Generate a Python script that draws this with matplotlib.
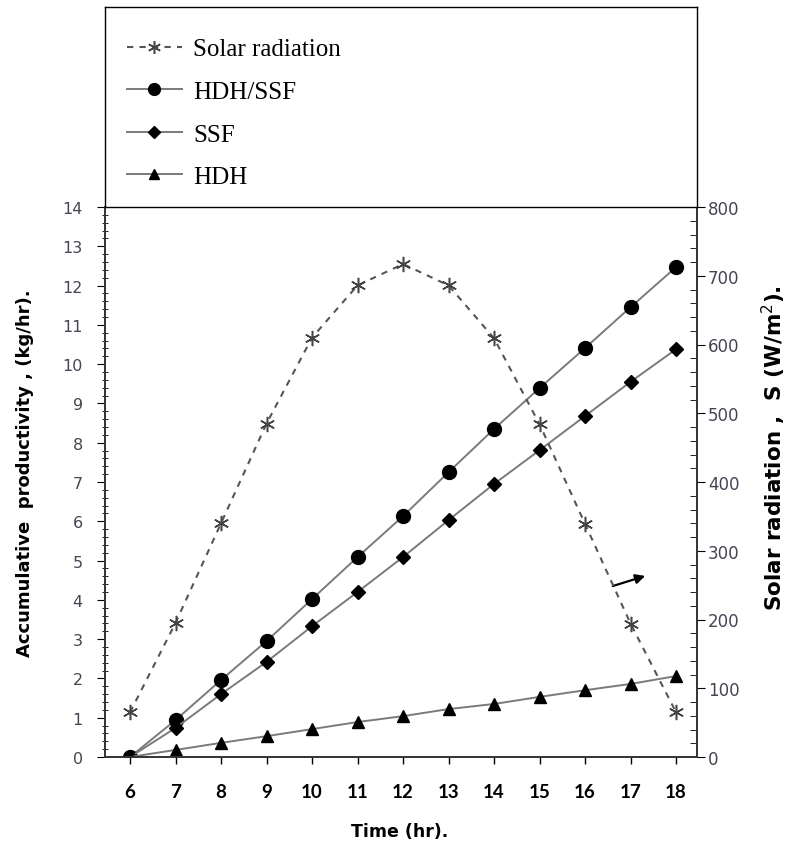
import numpy as np
import matplotlib.pyplot as plt
from matplotlib.ticker import MultipleLocator

# --- Dades (llegides de la figura) ---
hours = [6, 7, 8, 9, 10, 11, 12, 13, 14, 15, 16, 17, 18]
solar = [65, 195, 340, 485, 610, 686, 717, 686, 609, 484, 339, 194, 65]
hdh_ssf = [0, 0.94, 1.96, 2.95, 4.02, 5.09, 6.13, 7.25, 8.35, 9.39, 10.41, 11.45, 12.47]
ssf = [0, 0.74, 1.6, 2.42, 3.33, 4.2, 5.09, 6.03, 6.95, 7.81, 8.68, 9.55, 10.38]
hdh = [0, 0.18, 0.36, 0.53, 0.71, 0.89, 1.04, 1.22, 1.35, 1.53, 1.7, 1.86, 2.06]

tick_col = '#4a4252'
line_col = '#7a7a7a'

fig = plt.figure(figsize=(7.92, 8.45), dpi=100)
ax = fig.add_axes([105/792, 87/845, 592/792, 550/845])
ax2 = ax.twinx()
leg_ax = fig.add_axes([105/792, 637/845, 592/792, 200/845])
leg_ax.set_xticks([])
leg_ax.set_yticks([])
for s in leg_ax.spines.values():
    s.set_color('black')
    s.set_linewidth(1.0)

# --- Sèries ---
l1, = ax.plot(hours, hdh_ssf, color=line_col, lw=1.4, marker='o', ms=10,
              mfc='black', mec='black')
l2, = ax.plot(hours, ssf, color=line_col, lw=1.4, marker='D', ms=7,
              mfc='black', mec='black')
l3, = ax.plot(hours, hdh, color=line_col, lw=1.4, marker='^', ms=9,
              mfc='black', mec='black')
ls, = ax2.plot(hours, solar, color='#555555', lw=1.5, ls=(0, (3, 3)),
               marker=(6, 2, 0), ms=11, mec='#444444', mew=1.1)

ax.annotate('', xy=(17.38, 4.63), xytext=(16.55, 4.33),
            arrowprops=dict(arrowstyle='-|>', color='black', lw=1.6,
                            mutation_scale=14))

# --- Eixos ---
ax.set_xlim(5.45, 18.46)
ax.set_ylim(0, 14)
ax2.set_ylim(0, 800)
ax.set_xticks(hours)
ax.set_yticks(range(0, 15))
ax.yaxis.set_minor_locator(MultipleLocator(0.2))
ax2.set_yticks(range(0, 801, 100))
ax2.yaxis.set_minor_locator(MultipleLocator(20))

for lab in ax.get_xticklabels():
    lab.set_fontfamily('Lato')
    lab.set_fontweight('bold')
    lab.set_fontsize(13.5)
ax.tick_params(axis='x', direction='out', length=5, width=1, pad=14)
ax.tick_params(axis='y', which='major', direction='out', length=6,
               labelsize=11.5, labelcolor=tick_col, pad=10)
ax.tick_params(axis='y', which='minor', direction='inout', length=5)
ax2.tick_params(axis='y', which='major', direction='out', length=6,
                labelsize=12, labelcolor=tick_col, pad=2)
ax2.tick_params(axis='y', which='minor', direction='in', length=5)

for a in (ax, ax2):
    for s in a.spines.values():
        s.set_color('#333333')
        s.set_linewidth(1.2)

fig.text(400/792, 1 - 832/845, 'Time (hr).', ha='center', va='center',
         fontfamily='DejaVu Sans', fontweight='bold', fontsize=12.5)
fig.text(25/792, 1 - 473/845, 'Accumulative  productivity , (kg/hr).',
         rotation=90, ha='center', va='center', fontfamily='DejaVu Sans',
         fontweight='bold', fontsize=13)
fig.text(774/792, 1 - 448/845, 'Solar radiation ,  S (W/m$^2$).',
         rotation=90, ha='center', va='center', fontfamily='DejaVu Sans',
         fontweight='bold', fontsize=15.5)

# --- Llegenda ---
leg_ax.legend([ls, l1, l2, l3], ['Solar radiation', 'HDH/SSF', 'SSF', 'HDH'],
              loc='upper left', bbox_to_anchor=(0.02, 0.895), frameon=False,
              prop={'family': 'Liberation Serif', 'size': 18},
              handlelength=2.2, labelspacing=0.8, handletextpad=0.45,
              borderaxespad=0, markerscale=0.85)

fig.savefig('out.png', dpi=100)
